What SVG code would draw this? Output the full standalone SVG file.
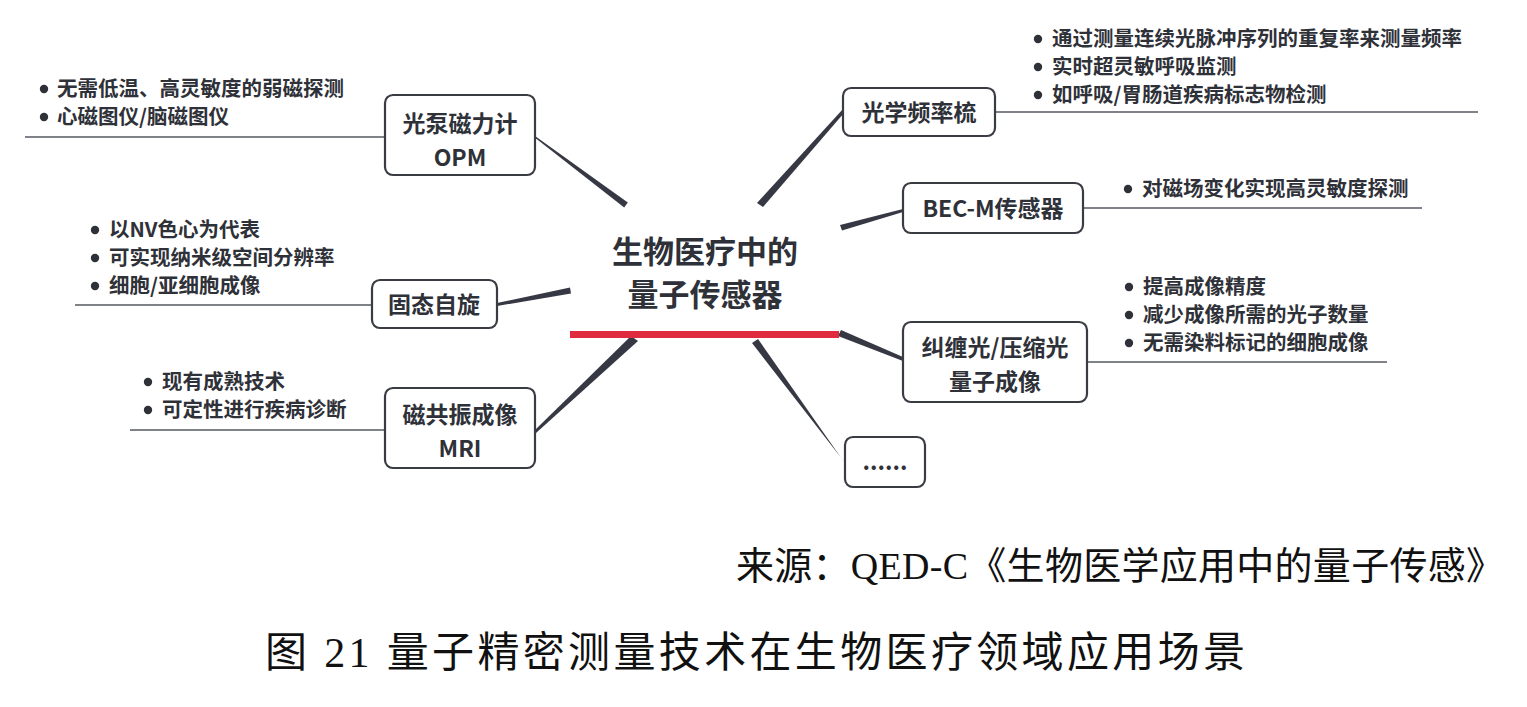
<svg xmlns="http://www.w3.org/2000/svg" width="1527" height="707" viewBox="0 0 1527 707">
<style>
.box{fill:#fff;stroke:#3a3c44;stroke-width:2.2}
.nt{font-family:"Noto Sans CJK SC","Microsoft YaHei",sans-serif;font-weight:700;font-size:23px;fill:#2f3139;text-anchor:middle}
.ct{font-family:"Noto Sans CJK SC",sans-serif;font-weight:700;font-size:31px;fill:#2f3139;text-anchor:middle}
.bt{font-family:"Noto Sans CJK SC",sans-serif;font-weight:700;font-size:20.5px;fill:#2f3139}
.dot{fill:#2f3139}
.ul{stroke:#555860;stroke-width:1.5}
.wedge{fill:#363843}
.ft{font-family:"Liberation Serif","Noto Sans CJK SC",serif;fill:#111}
</style>
<rect width="1527" height="707" fill="#fff"/>
<g id="connectors">
<polygon class="wedge" points="535,136 536,138.5 624.2,207.4 627.8,202.6"/>
<polygon class="wedge" points="843,109 844,113 763,207 757,203"/>
<polygon class="wedge" points="903,209 903,212 842,230.5 840,225"/>
<polygon class="wedge" points="497,303 497,306 571,293.5 570,287.5"/>
<polygon class="wedge" points="535,430 536,433 638,341 631,336"/>
<polygon class="wedge" points="903,357 903,361 838,336 841,330"/>
<polygon class="wedge" points="842,459 844,462 758,339 752,343"/>
<line class="ul" x1="25" y1="137" x2="385" y2="137"/>
<line class="ul" x1="995" y1="112" x2="1478" y2="112"/>
<line class="ul" x1="1083" y1="208" x2="1422" y2="208"/>
<line class="ul" x1="1087" y1="362" x2="1387" y2="362"/>
<line class="ul" x1="75" y1="305" x2="372" y2="305"/>
<line class="ul" x1="130" y1="430" x2="385" y2="430"/>
</g>
<g id="center">
<text class="ct" x="705" y="263">生物医疗中的</text>
<text class="ct" x="705" y="306">量子传感器</text>
<rect x="570" y="331" width="269" height="7" fill="#e02a3f"/>
</g>
<g id="opm">
<rect class="box" x="385" y="95" width="150" height="80" rx="8"/>
<text class="nt" x="460" y="132">光泵磁力计</text>
<text class="nt" x="460" y="166">OPM</text>
<circle class="dot" cx="44" cy="89" r="4.2"/>
<text class="bt" x="57" y="96">无需低温、高灵敏度的弱磁探测</text>
<circle class="dot" cx="44" cy="117" r="4.2"/>
<text class="bt" x="57" y="124">心磁图仪/脑磁图仪</text>
</g>
<g id="comb">
<rect class="box" x="843" y="88" width="152" height="48" rx="8"/>
<text class="nt" x="919" y="121">光学频率梳</text>
<circle class="dot" cx="1038" cy="39" r="4.2"/>
<text class="bt" x="1052" y="46">通过测量连续光脉冲序列的重复率来测量频率</text>
<circle class="dot" cx="1038" cy="67" r="4.2"/>
<text class="bt" x="1052" y="74">实时超灵敏呼吸监测</text>
<circle class="dot" cx="1038" cy="95" r="4.2"/>
<text class="bt" x="1052" y="102">如呼吸/胃肠道疾病标志物检测</text>
</g>
<g id="becm">
<rect class="box" x="903" y="183" width="180" height="50" rx="8"/>
<text class="nt" x="993" y="217">BEC-M传感器</text>
<circle class="dot" cx="1128" cy="189" r="4.2"/>
<text class="bt" x="1142" y="196">对磁场变化实现高灵敏度探测</text>
</g>
<g id="imaging">
<rect class="box" x="903" y="322" width="184" height="80" rx="8"/>
<text class="nt" x="995" y="356">纠缠光/压缩光</text>
<text class="nt" x="995" y="390">量子成像</text>
<circle class="dot" cx="1129" cy="287" r="4.2"/>
<text class="bt" x="1143" y="294">提高成像精度</text>
<circle class="dot" cx="1129" cy="315" r="4.2"/>
<text class="bt" x="1143" y="322">减少成像所需的光子数量</text>
<circle class="dot" cx="1129" cy="343" r="4.2"/>
<text class="bt" x="1143" y="350">无需染料标记的细胞成像</text>
</g>
<g id="more">
<rect class="box" x="845" y="437" width="80" height="50" rx="8"/>
<text class="nt" x="885" y="470">......</text>
</g>
<g id="spin">
<rect class="box" x="372" y="280" width="125" height="48" rx="8"/>
<text class="nt" x="434" y="313">固态自旋</text>
<circle class="dot" cx="95" cy="230" r="4.2"/>
<text class="bt" x="109" y="237">以NV色心为代表</text>
<circle class="dot" cx="95" cy="258" r="4.2"/>
<text class="bt" x="109" y="265">可实现纳米级空间分辨率</text>
<circle class="dot" cx="95" cy="286" r="4.2"/>
<text class="bt" x="109" y="293">细胞/亚细胞成像</text>
</g>
<g id="mri">
<rect class="box" x="385" y="388" width="150" height="80" rx="8"/>
<text class="nt" x="460" y="423">磁共振成像</text>
<text class="nt" x="460" y="457">MRI</text>
<circle class="dot" cx="148" cy="382" r="4.2"/>
<text class="bt" x="162" y="389">现有成熟技术</text>
<circle class="dot" cx="148" cy="410" r="4.2"/>
<text class="bt" x="162" y="417">可定性进行疾病诊断</text>
</g>
<g id="footer">
<text class="ft" x="736" y="579" font-size="38" textLength="768" lengthAdjust="spacing">来源：QED-C《生物医学应用中的量子传感》</text>
<text class="ft" x="265" y="667" font-size="42" textLength="980" lengthAdjust="spacing">图 21 量子精密测量技术在生物医疗领域应用场景</text>
</g>
</svg>
